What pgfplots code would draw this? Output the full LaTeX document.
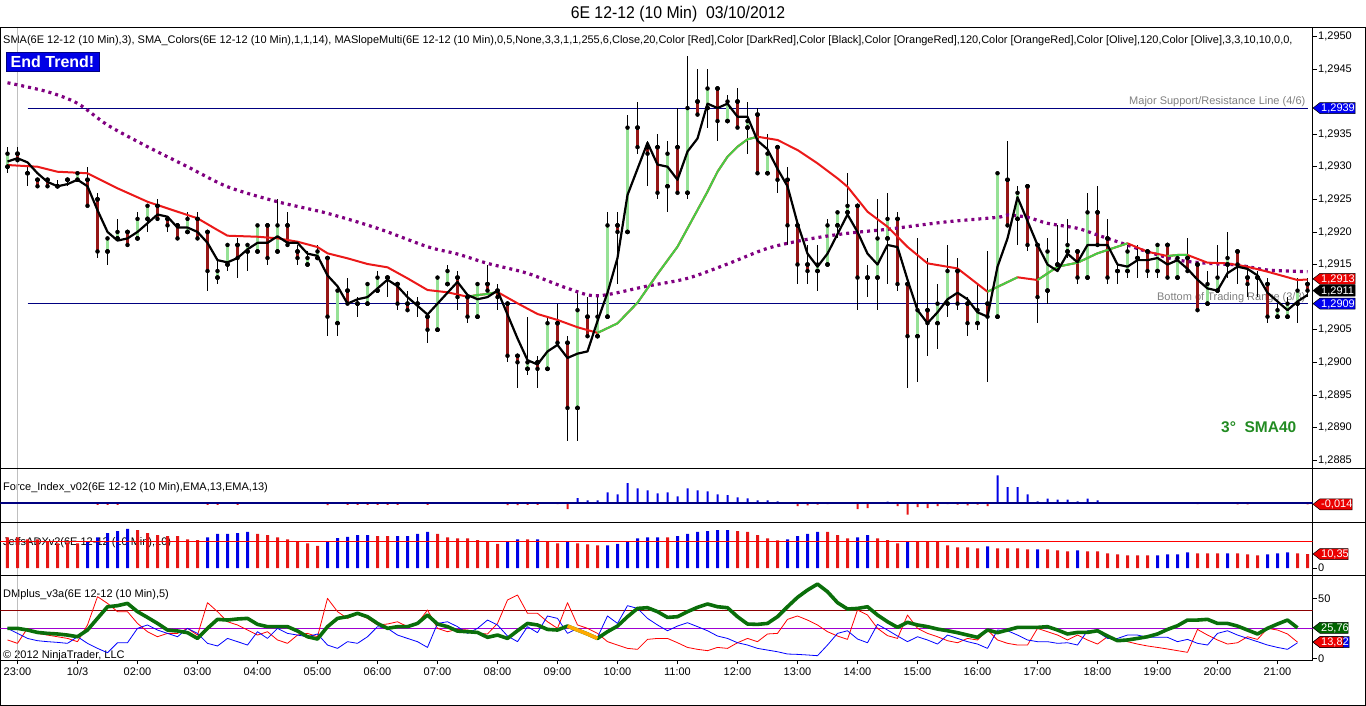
\documentclass[border=0pt]{standalone}
\usepackage{pgfplots}
\pgfplotsset{compat=1.18}
\usepackage{pgfplotstable}
\usepackage{fontspec}
\setmainfont{Liberation Sans}
\newfontfamily\titlefont[FakeStretch=0.93]{Liberation Sans}
\newcommand\lab{\fontsize{11}{13}\selectfont}

\definecolor{navyl}{RGB}{0,0,128}
\definecolor{cgreen}{RGB}{150,225,150}
\definecolor{cred}{RGB}{150,22,22}
\definecolor{mared}{RGB}{235,25,25}
\definecolor{magreen}{RGB}{70,205,70}
\definecolor{dpurple}{RGB}{128,0,128}
\definecolor{bblue}{RGB}{0,0,230}
\definecolor{bred}{RGB}{230,20,20}
\definecolor{dmgreen}{RGB}{10,110,10}
\definecolor{dmorange}{RGB}{255,170,0}
\definecolor{dmviolet}{RGB}{160,0,210}
\definecolor{dmdred}{RGB}{140,0,0}
\definecolor{tgreen}{RGB}{34,139,34}
\definecolor{boxblue}{RGB}{0,0,240}
\definecolor{boxred}{RGB}{235,0,0}
\definecolor{boxgreen}{RGB}{0,100,0}

\pgfplotstableread{
i o h l c s
0 1.2930 1.2933 1.2929 1.2932 1.29308
1 1.2932 1.2933 1.2931 1.2931 1.29313
2 1.2929 1.2930 1.2927 1.2929 1.293067
3 1.2928 1.2928 1.2927 1.2927 1.2929
4 1.2928 1.2928 1.2927 1.2927 1.292767
5 1.2927 1.2928 1.2927 1.2927 1.2927
6 1.2928 1.2928 1.2927 1.2928 1.292733
7 1.2928 1.2929 1.2928 1.2929 1.2928
8 1.2928 1.2930 1.2924 1.2924 1.2927
9 1.2925 1.2926 1.2916 1.2917 1.292333
10 1.2917 1.2919 1.2915 1.2919 1.2920
11 1.2919 1.2922 1.2919 1.2920 1.291867
12 1.2920 1.2920 1.2918 1.2918 1.2919
13 1.2919 1.2923 1.2919 1.2922 1.2920
14 1.2922 1.2924 1.2920 1.2924 1.292133
15 1.2924 1.2925 1.2922 1.2922 1.292267
16 1.2922 1.2922 1.2920 1.2921 1.292233
17 1.2921 1.2921 1.2919 1.2919 1.292067
18 1.2920 1.2923 1.2920 1.2922 1.292067
19 1.2922 1.2923 1.2919 1.2919 1.2920
20 1.2920 1.2920 1.2911 1.2914 1.291833
21 1.2913 1.2916 1.2912 1.2914 1.291567
22 1.2915 1.2918 1.2914 1.2918 1.291533
23 1.2918 1.2919 1.2913 1.2916 1.2916
24 1.2917 1.2918 1.2914 1.2918 1.291733
25 1.2917 1.2921 1.2917 1.2921 1.291833
26 1.2921 1.2921 1.2915 1.2916 1.291833
27 1.2917 1.2925 1.2917 1.2921 1.291933
28 1.2921 1.2923 1.2918 1.2918 1.291833
29 1.2917 1.2918 1.2915 1.2916 1.291833
30 1.2915 1.2917 1.2915 1.2916 1.291667
31 1.2916 1.2918 1.2916 1.2917 1.291633
32 1.2916 1.2916 1.2904 1.2907 1.291333
33 1.2906 1.2911 1.2904 1.2911 1.291167
34 1.2911 1.2913 1.2909 1.2909 1.2909
35 1.2909 1.2910 1.2907 1.2909 1.290967
36 1.2909 1.2912 1.2909 1.2912 1.2910
37 1.2911 1.2914 1.2911 1.2913 1.291133
38 1.2913 1.2913 1.2910 1.2913 1.291267
39 1.2912 1.2912 1.2908 1.2909 1.291167
40 1.2909 1.2911 1.2908 1.2908 1.2910
41 1.2909 1.2910 1.2907 1.2909 1.290867
42 1.2907 1.2907 1.2903 1.2905 1.290733
43 1.2905 1.2913 1.2905 1.2913 1.2909
44 1.2912 1.2915 1.2912 1.2914 1.291067
45 1.2913 1.2914 1.2908 1.2910 1.291233
46 1.2910 1.2910 1.2906 1.2907 1.291033
47 1.2907 1.2912 1.2907 1.2912 1.290967
48 1.2912 1.2915 1.2911 1.2911 1.2910
49 1.2911 1.2912 1.2908 1.2910 1.2911
50 1.2909 1.2909 1.2900 1.2901 1.290733
51 1.2901 1.2901 1.2896 1.2900 1.290367
52 1.2899 1.2907 1.2898 1.2900 1.290033
53 1.2900 1.2901 1.2896 1.2899 1.289967
54 1.2899 1.2907 1.2899 1.2906 1.290167
55 1.2906 1.2909 1.2903 1.2903 1.290267
56 1.2903 1.2904 1.2888 1.2893 1.290067
57 1.2893 1.2911 1.2888 1.2908 1.290133
58 1.2907 1.2910 1.2904 1.2904 1.290167
59 1.2904 1.2910 1.2904 1.2907 1.290633
60 1.2907 1.2923 1.2907 1.2921 1.291067
61 1.2921 1.2923 1.2912 1.2920 1.2916
62 1.2920 1.2938 1.2920 1.2936 1.292567
63 1.2936 1.2940 1.2932 1.2933 1.292967
64 1.2933 1.2934 1.2927 1.2932 1.293367
65 1.2933 1.2935 1.2925 1.2926 1.293033
66 1.2927 1.2934 1.2923 1.2932 1.2930
67 1.2933 1.2939 1.2926 1.2926 1.2928
68 1.2926 1.2947 1.2925 1.2939 1.293233
69 1.2940 1.2945 1.2938 1.2938 1.293433
70 1.2939 1.2945 1.2936 1.2942 1.293967
71 1.2942 1.2942 1.2934 1.2937 1.2939
72 1.2937 1.2941 1.2937 1.2940 1.293967
73 1.2940 1.2942 1.2936 1.2936 1.293767
74 1.2936 1.2940 1.2932 1.2937 1.293767
75 1.2938 1.2939 1.2929 1.2929 1.2934
76 1.2929 1.2935 1.2929 1.2932 1.293267
77 1.2933 1.2933 1.2926 1.2928 1.292967
78 1.2928 1.2930 1.2918 1.2921 1.2927
79 1.2921 1.2921 1.2912 1.2915 1.292133
80 1.2915 1.2918 1.2912 1.2914 1.291667
81 1.2914 1.2918 1.2911 1.2915 1.291467
82 1.2915 1.2922 1.2915 1.2921 1.291667
83 1.2921 1.2923 1.2919 1.2923 1.291967
84 1.2923 1.2929 1.2923 1.2924 1.292267
85 1.2924 1.2924 1.2908 1.2913 1.2920
86 1.2913 1.2915 1.2910 1.2913 1.291667
87 1.2913 1.2925 1.2908 1.2919 1.2915
88 1.2919 1.2926 1.2912 1.2922 1.2918
89 1.2922 1.2923 1.2911 1.2912 1.291767
90 1.2912 1.2912 1.2896 1.2904 1.291267
91 1.2904 1.2919 1.2897 1.2908 1.2908
92 1.2908 1.2916 1.2901 1.2906 1.2906
93 1.2906 1.2912 1.2902 1.2909 1.290767
94 1.2909 1.2918 1.2907 1.2914 1.290967
95 1.2914 1.2916 1.2908 1.2909 1.291067
96 1.2909 1.2910 1.2904 1.2906 1.290967
97 1.2906 1.2912 1.2905 1.2908 1.290767
98 1.2909 1.2917 1.2897 1.2907 1.2907
99 1.2907 1.2929 1.2907 1.2929 1.291467
100 1.2928 1.2934 1.2921 1.2921 1.2919
101 1.2922 1.2927 1.2918 1.2926 1.292533
102 1.2927 1.2927 1.2917 1.2918 1.292167
103 1.2918 1.2918 1.2906 1.2910 1.2918
104 1.2911 1.2919 1.2909 1.2917 1.2915
105 1.2915 1.2921 1.2914 1.2915 1.2914
106 1.2917 1.2922 1.2916 1.2918 1.291667
107 1.2917 1.2917 1.2912 1.2913 1.291533
108 1.2913 1.2926 1.2913 1.2923 1.2918
109 1.2923 1.2927 1.2918 1.2918 1.2918
110 1.2919 1.2922 1.2912 1.2913 1.2918
111 1.2914 1.2915 1.2912 1.2914 1.2915
112 1.2914 1.2918 1.2913 1.2917 1.291467
113 1.2916 1.2918 1.2913 1.2916 1.291567
114 1.2917 1.2917 1.2913 1.2914 1.291567
115 1.2914 1.2918 1.2913 1.2918 1.2916
116 1.2918 1.2918 1.2913 1.2913 1.2915
117 1.2913 1.2916 1.2913 1.2916 1.291567
118 1.2916 1.2919 1.2914 1.2914 1.291433
119 1.2915 1.2915 1.2908 1.2908 1.291267
120 1.2909 1.2914 1.2909 1.2912 1.291133
121 1.2911 1.2918 1.2911 1.2913 1.2911
122 1.2915 1.2920 1.2913 1.2916 1.291367
123 1.2917 1.2917 1.2912 1.2915 1.291467
124 1.2913 1.2915 1.2910 1.2912 1.291433
125 1.2913 1.2914 1.2910 1.2913 1.291333
126 1.2912 1.2913 1.2906 1.2907 1.291067
127 1.2907 1.2909 1.2907 1.2908 1.290933
128 1.2907 1.2910 1.2907 1.2909 1.2908
129 1.2909 1.2913 1.2906 1.2911 1.290933
130 1.2912 1.2913 1.2910 1.2911 1.291033
}\ohlc

\pgfplotstableread{
i g r b
0 25.3 15.6 25.3
1 25.3 12.8 21.1
2 23.9 25.3 16.9
3 21.9 21.1 15.0
4 21.1 19.7 14.2
5 20.6 18.3 13.6
6 19.7 16.9 12.8
7 18.3 14.2 18.3
8 23.9 28.1 12.8
9 33.6 51.7 8.6
10 43.3 46.1 5.0
11 44.2 39.2 13.3
12 46.1 39.2 13.3
13 39.2 29.4 25.3
14 34.4 22.5 28.1
15 29.4 18.3 23.9
16 23.9 21.1 21.1
17 23.1 21.1 18.3
18 21.7 25.3 25.3
19 16.9 19.7 21.1
20 25.3 46.7 12.8
21 32.8 39.2 10.6
22 32.2 30.8 16.9
23 33.1 28.1 14.2
24 33.6 23.9 11.4
25 28.6 19.7 22.5
26 26.7 22.5 16.9
27 26.7 15.6 25.3
28 26.7 12.8 21.1
29 23.1 19.7 19.7
30 18.3 21.1 18.3
31 16.4 18.3 20.6
32 26.7 50.3 11.4
33 33.6 39.2 8.6
34 35.0 33.6 14.2
35 37.8 37.2 12.8
36 35.0 33.6 18.3
37 29.4 28.1 26.7
38 25.3 28.9 25.3
39 26.7 30.8 19.7
40 26.7 26.7 16.9
41 29.4 29.4 14.2
42 36.4 40.6 9.4
43 28.9 25.3 29.4
44 26.7 22.5 30.8
45 23.0 24.5 26.7
46 22.5 23.9 21.1
47 21.9 21.1 25.3
48 17.8 20.6 32.2
49 19.7 29.4 28.1
50 16.9 48.9 18.9
51 23.3 53.1 14.2
52 29.4 37.8 26.7
53 28.1 37.8 21.7
54 24.4 30.8 35.6
55 23.9 25.3 33.6
56 27.2 46.7 21.1
57 23.9 28.1 25.3
58 20.6 25.3 21.1
59 16.9 21.1 17.8
60 22.5 14.2 35.6
61 27.2 11.4 29.4
62 35.0 8.6 44.2
63 41.9 7.8 41.9
64 42.5 16.1 33.6
65 39.2 16.9 28.1
66 34.4 16.9 23.3
67 35.0 13.3 27.2
68 39.2 9.4 30.0
69 42.8 7.8 26.7
70 45.6 6.7 23.3
71 43.3 9.4 18.9
72 42.5 8.6 16.9
73 35.0 13.3 13.3
74 28.9 16.9 11.4
75 28.6 14.2 8.6
76 29.4 20.6 7.2
77 35.0 21.1 5.8
78 43.3 32.8 3.9
79 51.1 35.6 3.6
80 57.2 32.2 3.1
81 62.2 28.1 2.5
82 55.8 22.5 11.4
83 46.7 18.9 21.1
84 41.4 16.1 23.3
85 41.9 40.6 16.4
86 43.3 36.4 13.3
87 36.4 25.3 28.6
88 30.8 19.2 23.9
89 26.1 16.9 18.9
90 30.3 36.4 14.2
91 28.1 25.3 18.3
92 26.7 21.1 15.6
93 24.7 18.3 12.2
94 23.3 15.0 19.7
95 21.7 13.3 16.9
96 19.7 16.9 14.2
97 17.8 15.6 12.2
98 23.9 23.9 8.6
99 21.7 15.6 23.9
100 23.9 12.8 23.3
101 26.1 11.4 19.7
102 26.1 11.4 15.6
103 26.1 25.3 14.2
104 26.7 22.5 14.2
105 23.9 19.7 12.8
106 20.6 15.6 13.3
107 21.9 19.7 11.4
108 21.9 15.6 23.3
109 23.3 12.2 22.5
110 18.9 18.3 16.9
111 15.0 15.6 16.9
112 15.6 14.2 19.7
113 16.9 12.2 19.7
114 18.3 10.6 17.8
115 20.6 9.4 17.8
116 24.4 8.1 17.8
117 27.5 6.7 14.2
118 32.2 5.3 16.1
119 32.2 24.4 12.8
120 32.8 19.7 11.4
121 29.4 15.6 21.1
122 29.4 12.2 23.3
123 27.2 13.3 19.7
124 23.9 18.3 16.9
125 20.6 16.1 14.2
126 25.3 25.3 11.4
127 28.9 23.9 9.4
128 32.2 20.6 7.8
129 25.76 13.82 13.3
}\dmtab

\pgfplotsset{
  panel/.style={scale only axis, width=1312pt, xmin=-0.7, xmax=130.5, anchor=north west,
    xtick=\empty, ytick=\empty, axis line style={line width=0.8pt},
    tick style={black, line width=0.8pt}, tick align=outside, major tick length=4pt,
    ytick pos=right, scaled y ticks=false,
    yticklabel style={font=\lab, inner sep=1.5pt},
    xticklabel style={font=\lab},
    /pgf/number format/assume math mode=true},
  ebar/.style={only marks, mark=none, forget plot, error bars/y explicit, error bars/error mark=none}
}

\newcommand{\tagbox}[3]{%
  \filldraw[fill=#1, draw=black, line width=0.5pt] ([xshift=0.5pt]#2) -- ++(7pt,5.5pt) -- ++(#3,0) -- ++(0,-11pt) -- ++(-#3,0) -- cycle;}
\newcommand{\tagtext}[2]{\node[anchor=west, inner sep=0pt, text=white, font=\lab] at ([xshift=8.5pt,yshift=-0.5pt]#1) {#2};}

\begin{document}
\begin{tikzpicture}[x=1pt,y=1pt]
\path[use as bounding box] (0pt,0pt) rectangle (1366pt,-706pt);

% texts behind plots
\node[anchor=base, font=\titlefont\fontsize{17}{19}\selectfont] at (678pt,-19pt) {6E 12-12 (10 Min)\ \ 03/10/2012};
\begin{scope}
\clip (0pt,-28pt) rectangle (1311pt,-50pt);
\node[anchor=base west, inner sep=0pt, font=\lab] at (3pt,-43.3pt) {SMA(6E 12-12 (10 Min),3), SMA\_Colors(6E 12-12 (10 Min),1,1,14), MASlopeMulti(6E 12-12 (10 Min),0,5,None,3,3,1,1,255,6,Close,20,Color [Red],Color [DarkRed],Color [Black],Color [OrangeRed],120,Color [OrangeRed],Color [Olive],120,Color [Olive],3,3,10,10,0,0,};
\end{scope}
\node[anchor=base west, inner sep=0pt, font=\lab] at (3pt,-490pt) {Force\_Index\_v02(6E 12-12 (10 Min),EMA,13,EMA,13)};
\node[anchor=base west, inner sep=0pt, font=\lab] at (3pt,-545pt) {JeffsADXv2(6E 12-12 (10 Min),10)};
\node[anchor=base west, inner sep=0pt, font=\lab] at (3pt,-597.3pt) {DMplus\_v3a(6E 12-12 (10 Min),5)};
\node[anchor=base west, inner sep=0pt, font=\lab] at (3pt,-658pt) {\textcopyright{} 2012 NinjaTrader, LLC};
\draw[black!25, line width=0.8pt] (17.5pt,-27pt) -- (17.5pt,-660pt);

% ---------------- main price panel
\begin{axis}[panel, at={(0.5pt,-27pt)}, height=441pt, ymin=1.288379, ymax=1.295143,
  ytick={1.2885,1.2890,1.2895,1.2900,1.2905,1.2915,1.2920,1.2925,1.2930,1.2935,1.2945,1.2950},
  yticklabel style={/pgf/number format/fixed, /pgf/number format/fixed zerofill,
    /pgf/number format/precision=4, /pgf/number format/use comma}]
\node[anchor=base east, inner sep=0pt, text=black!50, font=\lab] at (axis cs:129.8,1.2939) [yshift=3.5pt] {Major Support/Resistance Line (4/6)};
\node[anchor=base east, inner sep=0pt, text=black!50, font=\lab] at (axis cs:129.8,1.2909) [yshift=3.6pt] {Bottom of Trading Range (3/3)};
\addplot[navyl, line width=0.8pt, forget plot] coordinates {(2,1.2939) (130,1.2939)};
\addplot[navyl, line width=0.8pt, forget plot] coordinates {(2,1.2909) (130,1.2909)};
% wicks
\addplot[ebar, error bars/y dir=both, error bars/error bar style={black, line width=0.8pt}]
  table[x=i, y=o, y error plus expr=\thisrow{h}-\thisrow{o}, y error minus expr=\thisrow{o}-\thisrow{l}] {\ohlc};
% body outlines
\addplot[ebar, error bars/y dir=both, error bars/error bar style={black, line width=3.8pt}]
  table[x=i, y=o, y error plus expr={max(\thisrow{c}-\thisrow{o},0)+0.000007}, y error minus expr={max(\thisrow{o}-\thisrow{c},0)+0.000007}] {\ohlc};
% bodies
\addplot[ebar, error bars/y dir=plus, error bars/error bar style={cgreen, line width=2.2pt}]
  table[x=i, y=o, y error plus expr={max(\thisrow{c}-\thisrow{o},0)}] {\ohlc};
\addplot[ebar, error bars/y dir=plus, error bars/error bar style={cred, line width=2.2pt}]
  table[x=i, y=c, y error plus expr={max(\thisrow{o}-\thisrow{c},0)}] {\ohlc};
% SMA 120 dotted
\addplot[dpurple, line width=3.2pt, dash pattern=on 3pt off 4pt, smooth] coordinates {
(0,1.294288) (4,1.29415) (7,1.293972) (10,1.29364) (14,1.293307) (18,1.2930) (22,1.292693)
(27,1.292463) (32,1.292285) (37,1.292055) (42,1.291773) (45,1.291661) (48,1.291518) (52,1.291365)
(56,1.291135) (59,1.29102) (64,1.29117) (68,1.291288) (72,1.291508) (76,1.291748) (80,1.291887)
(84,1.291979) (88,1.29204) (90,1.29208) (94,1.292156) (99,1.292224) (100,1.292259) (102,1.292224)
(104,1.292132) (107,1.292055) (109,1.291952) (111,1.29185) (114,1.291696) (117,1.291569)
(120,1.291518) (123,1.291492) (126,1.291416) (130,1.29139)};
% slope MA (red falling / green rising)
\addplot[mared, line width=2pt, line join=round] coordinates {
(0,1.293026) (3,1.2930) (5,1.292923) (7,1.292908) (8,1.292899) (9,1.292822) (11,1.292669)
(14,1.292463) (17,1.29231) (19,1.292209) (21,1.292029) (22,1.291942) (25,1.291926) (27,1.291902)
(29,1.29185) (31,1.291768) (32,1.291672) (34,1.291595) (36,1.291508) (38,1.291457) (40,1.291288)
(42,1.291109) (44,1.291074) (46,1.291006) (47,1.291032) (48,1.291048) (49,1.291078) (51,1.290905)
(53,1.290741) (55,1.29065) (57,1.290538) (59,1.290451) (61,1.290598) (63,1.290914) (65,1.291354)
(67,1.291773) (69,1.292336) (70,1.292617) (71,1.292923) (72,1.293153) (73,1.293307) (74,1.29342)
(75,1.29346) (77,1.29341) (79,1.293256) (81,1.293052) (83,1.292822) (84,1.292693) (86,1.29231)
(88,1.29208) (90,1.29177) (92,1.291518) (95,1.29144) (98,1.291083) (101,1.291304) (103,1.291262)
(105,1.291466) (107,1.291528) (109,1.291672) (112,1.291825) (114,1.291696) (116,1.29163)
(117,1.291646) (118,1.291646) (120,1.291528) (122,1.291518) (124,1.291466) (126,1.29139)
(129,1.291262) (130,1.29127)};
\addplot[magreen, line width=2pt, line join=round] coordinates {(46,1.291006) (47,1.291032) (48,1.291048) (49,1.291078)};
\addplot[magreen, line width=2pt, line join=round] coordinates {(59,1.290451) (61,1.290598) (63,1.290914) (65,1.291354)
(67,1.291773) (69,1.292336) (70,1.292617) (71,1.292923) (72,1.293153) (73,1.293307) (74,1.29342) (75,1.29346)};
\addplot[magreen, line width=2pt, line join=round] coordinates {(98,1.291083) (101,1.291304)};
\addplot[magreen, line width=2pt, line join=round] coordinates {(103,1.291262) (105,1.291466) (107,1.291528) (109,1.291672) (112,1.291825)};
\addplot[magreen, line width=2pt, line join=round] coordinates {(116,1.29163) (117,1.291646) (118,1.291646)};
% SMA 3
\addplot[black, line width=2.2pt, line join=round] table[x=i, y=s] {\ohlc};
\coordinate (t2939) at (axis cs:130.5,1.2939);
\coordinate (t2913) at (axis cs:130.5,1.29128);
\coordinate (t2911) at (axis cs:130.5,1.2911);
\coordinate (t2909) at (axis cs:130.5,1.2909);
\end{axis}

% ---------------- Force index panel
\begin{axis}[panel, at={(0.5pt,-468pt)}, height=54pt, ymin=-0.19, ymax=0.35]
\addplot[ybar, bar width=2pt, bar shift=0pt, fill=bblue, draw=none] coordinates {
(57,0.05) (58,0.027) (59,0.027) (60,0.107) (61,0.087) (62,0.20) (63,0.147) (64,0.127) (65,0.097)
(66,0.107) (67,0.067) (68,0.147) (69,0.127) (70,0.117) (71,0.087) (72,0.08) (73,0.057) (74,0.047)
(75,0.027) (76,0.027) (77,0.017) (78,0.008) (87,0.01) (88,0.015) (99,0.277) (100,0.16) (101,0.16)
(102,0.087) (103,0.017) (104,0.043) (105,0.033) (106,0.033) (107,0.017) (108,0.043) (109,0.027)};
\addplot[ybar, bar width=2pt, bar shift=0pt, fill=bred, draw=none] coordinates {
(9,-0.018) (10,-0.018) (11,-0.018) (20,-0.018) (21,-0.018) (23,-0.018) (32,-0.022) (34,-0.018)
(35,-0.018) (36,-0.018) (37,-0.018) (38,-0.018) (39,-0.018) (42,-0.018) (50,-0.02) (51,-0.02)
(52,-0.018) (53,-0.018) (55,-0.012) (56,-0.06) (79,-0.03) (80,-0.023) (81,-0.017) (82,-0.012)
(85,-0.06) (86,-0.05) (89,-0.03) (90,-0.117) (91,-0.04) (92,-0.05) (93,-0.03) (94,-0.012)
(95,-0.017) (96,-0.023) (97,-0.017) (98,-0.03) (119,-0.012) (123,-0.014) (124,-0.014) (130,-0.014)};
\addplot[navyl, line width=2pt] coordinates {(-0.7,0) (130.5,0)};
\coordinate (tforce) at (axis cs:130.5,-0.0125);
\end{axis}

% ---------------- ADX panel
\begin{axis}[panel, at={(0.5pt,-522pt)}, height=53pt, ymin=-5.185, ymax=34.074, ytick={0}]
\addplot[ybar, bar width=3pt, bar shift=0pt, fill=bred, draw=none] coordinates {
(0,22.7) (1,22.7) (2,21.2) (3,21.2) (4,19.8) (5,18.3) (6,19.0) (7,18.3) (13,28.1) (14,25.9) (15,24.4)
(16,23.7) (17,23.7) (18,21.2) (19,20.7) (25,25.2) (26,24.4) (27,22.7) (28,21.2) (29,19.8) (30,18.3)
(31,16.3) (37,23.7) (38,23.7) (43,25.2) (44,22.7) (45,22.0) (46,22.0) (47,20.7) (48,19.8) (49,17.8)
(52,21.2) (54,19.8) (55,18.3) (57,18.3) (58,17.5) (59,16.8) (66,22.7) (73,27.4) (74,26.7) (75,24.4)
(76,22.0) (77,20.5) (82,26.7) (83,24.4) (84,22.0) (87,22.0) (88,20.7) (89,18.3) (91,19.8) (92,19.8)
(93,19.8) (94,16.8) (95,15.3) (96,15.3) (97,14.6) (99,14.6) (100,14.6) (101,14.6) (102,13.8)
(104,13.8) (105,13.1) (106,12.3) (108,12.3) (109,12.3) (110,10.9) (111,10.1) (112,9.4) (113,9.4)
(114,9.4) (119,10.9) (120,10.9) (121,10.9) (123,10.9) (124,10.1) (125,9.4) (129,10.9) (130,10.35)};
\addplot[ybar, bar width=3pt, bar shift=0pt, fill=bblue, draw=none] coordinates {
(8,19.8) (9,22.7) (10,25.9) (11,27.4) (12,28.9) (20,22.7) (21,25.2) (22,25.2) (23,25.9) (24,26.7)
(32,19.8) (33,22.2) (34,23.0) (35,24.4) (36,24.4) (39,23.7) (40,23.7) (41,25.2) (42,26.7) (50,19.8)
(51,21.2) (53,21.2) (56,19.8) (60,16.8) (61,17.8) (62,19.8) (63,22.0) (64,22.7) (65,22.7) (67,23.7)
(68,25.2) (69,26.7) (70,27.4) (71,28.1) (72,28.1) (78,21.2) (79,23.7) (80,25.2) (81,26.7) (85,22.7)
(86,24.4) (90,19.8) (98,16.0) (103,13.8) (107,13.1) (115,9.4) (116,10.1) (117,10.1) (118,11.6)
(122,10.9) (126,10.1) (127,10.9) (128,11.6)};
\addplot[red, line width=0.8pt] coordinates {(-0.7,20) (130.5,20)};
\coordinate (tadx) at (axis cs:130.5,10.35);
\end{axis}

% ---------------- DMplus panel
\begin{axis}[panel, at={(0.5pt,-575pt)}, height=85pt, ymin=-1.083, ymax=69.75, ytick={0,50},
  xtick={1,7,...,127}, xtick pos=left,
  xticklabels={23:00,10/3,02:00,03:00,04:00,05:00,06:00,07:00,08:00,09:00,10:00,11:00,12:00,13:00,14:00,15:00,16:00,17:00,18:00,19:00,20:00,21:00}]
\addplot[dmdred, line width=0.8pt] coordinates {(-0.7,40) (130.5,40)};
\addplot[dmviolet, line width=0.8pt] coordinates {(-0.7,25) (130.5,25)};
\addplot[red, line width=0.8pt, line join=round] table[x=i, y=r] {\dmtab};
\addplot[blue, line width=0.8pt, line join=round] table[x=i, y=b] {\dmtab};
\addplot[dmgreen, line width=3.6pt, line join=round] table[x=i, y=g] {\dmtab};
\addplot[dmorange, line width=3.6pt, line join=round] coordinates {(56,27.2) (57,23.9) (58,20.6) (59,16.9)};
\coordinate (tdmg) at (axis cs:130.5,25.76);
\coordinate (tdmr) at (axis cs:130.5,13.82);
\end{axis}

% frame lines
\draw[line width=0.8pt] (1312.5pt,-27pt) -- (1365.5pt,-27pt);
\draw[line width=0.8pt] (1312.5pt,-468pt) -- (1365.5pt,-468pt);
\draw[line width=0.8pt] (1312.5pt,-522pt) -- (1365.5pt,-522pt);
\draw[line width=0.8pt] (1312.5pt,-575pt) -- (1365.5pt,-575pt);
\draw[line width=0.8pt] (1365.5pt,-27pt) -- (1365.5pt,-705.4pt) -- (0.5pt,-705.4pt) -- (0.5pt,-660pt);

% overlays
\node[fill=bblue, draw=navyl, line width=0.6pt, text=white, font=\bfseries\fontsize{16}{18}\selectfont,
  minimum width=93pt, minimum height=19.4pt, inner sep=0pt] at (52.5pt,-62pt) {End Trend!};
\node[anchor=base west, inner sep=0pt, text=tgreen, font=\bfseries\fontsize{15.5}{17}\selectfont] at (1221pt,-432pt) {3°\ \ SMA40};

\tagbox{boxblue}{t2939}{35pt}\tagtext{t2939}{1,2939}
\tagbox{boxred}{t2913}{35pt}\tagtext{t2913}{1,2913}
\tagbox{black}{t2911}{35pt}\tagtext{t2911}{1,2911}
\tagbox{boxblue}{t2909}{35pt}\tagtext{t2909}{1,2909}
\tagbox{boxred}{tforce}{32pt}\tagtext{tforce}{-0,014}
\tagbox{boxred}{tadx}{28pt}\tagtext{tadx}{10,35}
\tagbox{boxgreen}{tdmg}{28pt}\tagtext{tdmg}{25,76}
\tagbox{boxblue}{tdmr}{29pt}
\tagbox{boxred}{tdmr}{23pt}\tagtext{tdmr}{13,82}
\end{tikzpicture}
\end{document}
